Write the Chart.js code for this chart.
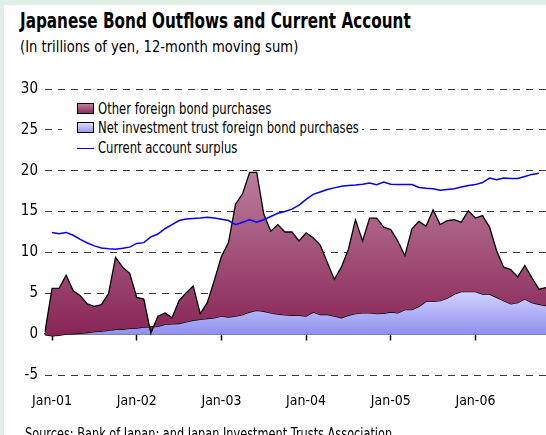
<!DOCTYPE html>
<html>
<head>
<meta charset="utf-8">
<script src="https://cdn.jsdelivr.net/npm/chart.js@4/dist/chart.umd.min.js"></script>
<style>
    html, body { margin: 0; padding: 0; }
    body { width: 546px; height: 435px; background: #e0efe8; position: relative; overflow: hidden;
           font-family: 'DejaVu Sans Condensed', 'Liberation Sans Narrow', sans-serif; color: #000; }
    #panel { position: absolute; left: 4px; top: 5px; right: 0; bottom: 0; background: #fff; }
    #chart-box { position: absolute; left: 0; top: 0; width: 546px; height: 435px; }
    .narrow { position: absolute; white-space: nowrap; transform-origin: 0 0; }
    .title { left: 20px; top: 9px; font-size: 21px; font-weight: bold; transform: scaleX(0.806); }
    .subtitle { left: 20px; top: 38px; font-size: 15px; transform: scaleX(0.975); }
    .source { left: 25px; top: 425px; font-size: 15px; transform: scaleX(0.84); }
    #legend { position: absolute; left: 62px; top: 97px; width: 300px; height: 62px; background: #fff; }
    #legend .row { position: absolute; left: 15px; height: 18px; line-height: 18px; white-space: nowrap; }
    #legend .swatch { display: inline-block; width: 15px; height: 9px; border: 1px solid #000; vertical-align: middle; margin-top: -2px; }
    #legend .lineSample { display: inline-block; width: 17px; height: 0; border-top: 1.5px solid #0000ff; vertical-align: middle; }
    #legend .text { display: inline-block; font-size: 15px; transform: scaleX(0.86); transform-origin: 0 50%; margin-left: 4px; }
</style>
</head>
<body>
<div id="panel"></div>
<div class="narrow title">Japanese Bond Outflows and Current Account</div>
<div class="narrow subtitle">(In trillions of yen, 12-month moving sum)</div>
<div id="chart-box"><canvas id="bond-chart" width="546" height="435"></canvas></div>
<div id="legend">
    <div class="row" style="top: 3px;"><span class="swatch" style="background: linear-gradient(#c07c9c, #8e2c5c);"></span><span class="text">Other foreign bond purchases</span></div>
    <div class="row" style="top: 22px;"><span class="swatch" style="background: linear-gradient(#dcdcff, #9a9af2);"></span><span class="text">Net investment trust foreign bond purchases</span></div>
    <div class="row" style="top: 42px;"><span class="lineSample"></span><span class="text">Current account surplus</span></div>
</div>
<div class="narrow source">Sources: Bank of Japan; and Japan Investment Trusts Association</div>
<script>
// Monthly data from Dec-00 to Nov-06, trillions of yen
const trustPurchases = [
    -0.1, -0.2, -0.15, 0.0, 0.05, 0.1, 0.2, 0.3, 0.37, 0.45, 0.6, 0.6,
    0.7, 0.75, 0.85, 0.9, 0.95, 1.2, 1.25, 1.3, 1.5, 1.7, 1.8, 1.9,
    2.0, 2.2, 2.1, 2.2, 2.4, 2.7, 2.9, 2.8, 2.6, 2.45, 2.35, 2.3,
    2.3, 2.2, 2.7, 2.4, 2.4, 2.2, 2.0, 2.3, 2.5, 2.6, 2.6, 2.5,
    2.55, 2.7, 2.6, 3.0, 3.0, 3.4, 4.0, 4.0, 4.1, 4.4, 4.9, 5.2,
    5.2, 5.2, 4.9, 4.9, 4.5, 4.1, 3.7, 3.85, 4.3, 3.85, 3.65, 3.5
];
const otherPurchases = [
    0.4, 5.8, 5.75, 7.2, 5.25, 4.6, 3.5, 3.1, 3.25, 4.5, 8.8, 7.6,
    6.75, 3.75, 3.45, -0.8, 1.25, 1.4, 0.75, 2.8, 3.55, 4.2, 0.7, 1.95,
    4.6, 7.3, 9.1, 13.7, 14.8, 17.1, 16.9, 11.9, 10.0, 10.95, 10.15, 10.2,
    9.1, 10.2, 9.1, 8.5, 6.4, 4.5, 6.2, 8.1, 11.5, 8.8, 11.6, 11.7,
    10.55, 10.1, 8.8, 6.6, 9.9, 10.4, 9.2, 11.2, 9.3, 9.5, 9.1, 8.5,
    9.9, 9.0, 9.6, 8.2, 5.7, 4.1, 4.2, 3.15, 4.1, 3.05, 1.85, 2.2
];
const currentAccount = [
    null, 12.45, 12.3, 12.45, 12.1, 11.6, 11.15, 10.8, 10.55, 10.45, 10.4, 10.5,
    10.65, 11.1, 11.2, 11.9, 12.25, 12.9, 13.4, 13.9, 14.1, 14.15, 14.2, 14.3,
    14.2, 14.05, 13.9, 13.4, 13.7, 14.0, 13.7, 14.0, 14.4, 14.8, 15.0, 15.3,
    15.8, 16.5, 17.1, 17.4, 17.7, 17.9, 18.1, 18.2, 18.25, 18.35, 18.5, 18.3,
    18.6, 18.35, 18.3, 18.3, 18.3, 17.95, 17.85, 17.8, 17.6, 17.7, 17.8, 18.0,
    18.2, 18.3, 18.55, 19.1, 18.9, 19.1, 19.05, 19.05, 19.3, 19.55, 19.7, null
];
const tickLabels = ['Jan-01', 'Jan-02', 'Jan-03', 'Jan-04', 'Jan-05', 'Jan-06'];

// month labels, starting at Dec-00
const monthNames = ['Jan', 'Feb', 'Mar', 'Apr', 'May', 'Jun', 'Jul', 'Aug', 'Sep', 'Oct', 'Nov', 'Dec'];
const months = otherPurchases.map((_, k) => {
    const n = 11 + k;
    return monthNames[n % 12] + '-' + String(Math.floor(n / 12)).padStart(2, '0');
});

// "other" area sits on top of the trust area
const bondTotal = otherPurchases.map((v, i) => v + trustPurchases[i]);

const FONT = "'DejaVu Sans Condensed', 'Liberation Sans Narrow', sans-serif";

// vertical gradient between a value and zero on the y scale
function gradientFill(topValue, topColor, bottomColor) {
    return function(context) {
        const chart = context.chart;
        const yScale = chart.scales.y;
        if (!chart.chartArea || !yScale) return bottomColor;
        const g = chart.ctx.createLinearGradient(0, yScale.getPixelForValue(topValue), 0, yScale.getPixelForValue(0));
        g.addColorStop(0, topColor);
        g.addColorStop(1, bottomColor);
        return g;
    };
}

function keepJanTicks(scale) {
    scale.ticks = scale.ticks.filter(t => tickLabels.includes(months[t.value]));
}

const ctx = document.getElementById('bond-chart').getContext('2d');
new Chart(ctx, {
    type: 'line',
    data: {
        labels: months,
        datasets: [
            {
                label: 'Current account surplus',
                data: currentAccount,
                borderColor: '#0000ff',
                borderWidth: 1.5,
                pointRadius: 0,
                fill: false,
                order: 0
            },
            {
                label: 'Net investment trust foreign bond purchases',
                data: trustPurchases,
                borderColor: '#000',
                borderWidth: 1.3,
                pointRadius: 0,
                backgroundColor: gradientFill(5.5, '#d6d6ff', '#9090f0'),
                fill: 'origin',
                order: 2
            },
            {
                label: 'Other foreign bond purchases',
                data: bondTotal,
                borderColor: '#000',
                borderWidth: 1.3,
                pointRadius: 0,
                backgroundColor: gradientFill(20, '#bb7e9b', '#892556'),
                fill: '-1',
                order: 1
            }
        ]
    },
    options: {
        responsive: false,
        animation: false,
        layout: { padding: { top: 89, right: 0, bottom: 18, left: 0 } },
        plugins: {
            legend: { display: false },
            tooltip: { enabled: false }
        },
        elements: { line: { tension: 0 } },
        scales: {
            x: {
                type: 'category',
                position: 'bottom',
                grid: { display: false },
                border: { display: false },
                afterBuildTicks: keepJanTicks,
                afterFit: scale => { scale.height = 42; },
                ticks: {
                    autoSkip: false,
                    maxRotation: 0,
                    padding: 10,
                    color: '#000',
                    font: { family: FONT, size: 14 }
                }
            },
            x2: {
                type: 'category',
                position: { y: 0 },
                afterBuildTicks: keepJanTicks,
                grid: { drawOnChartArea: false, drawTicks: true, tickLength: 6, tickColor: '#000', tickWidth: 1.5 },
                border: { display: true, color: '#000', width: 1.5 },
                ticks: { display: false }
            },
            y: {
                min: -5,
                max: 30,
                afterFit: scale => { scale.width = 45; },
                border: { display: false, dash: [7, 6] },
                grid: {
                    drawTicks: false,
                    color: ctx => ctx.tick && ctx.tick.value === 0 ? 'rgba(0,0,0,0)' : '#3a3a3a',
                    lineWidth: 1
                },
                ticks: {
                    stepSize: 5,
                    padding: 7,
                    color: '#000',
                    font: { family: FONT, size: 15 }
                }
            }
        }
    }
});
</script>
</body>
</html>
